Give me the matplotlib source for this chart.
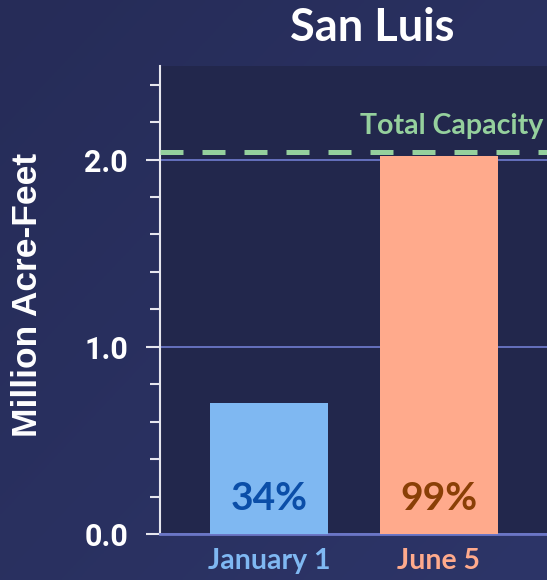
import numpy as np
import matplotlib
matplotlib.use('Agg')
import matplotlib.pyplot as plt

# data
dates = ['January 1', 'June 5']
storage = [0.70, 2.02]          # million acre-feet
pct_labels = ['34%', '99%']
capacity = 2.041
bar_colors = ['#7fb8f2', '#ffaa8c']
pct_colors = ['#0b4ea8', '#8a3f06']

fig = plt.figure(figsize=(5.47, 5.8), dpi=100)

# background gradient
bg = fig.add_axes([0, 0, 1, 1], zorder=-10)
gy, gx = np.mgrid[0:1:200j, 0:1:200j]
g = (gx + (1 - gy)) / 2
c0 = np.array([38, 44, 88]) / 255
c1 = np.array([45, 53, 104]) / 255
img = c0 + (c1 - c0) * g[..., None]
bg.imshow(img, aspect='auto', extent=[0, 1, 0, 1], origin='lower')
bg.axis('off')

ax = fig.add_axes([160 / 547, 1 - 534 / 580, 387 / 547, 468 / 580])
ax.set_facecolor('#22274c')

x = np.arange(len(dates))
ax.bar(x, storage, width=0.694, color=bar_colors, zorder=3)
for i, (lbl, c) in enumerate(zip(pct_labels, pct_colors)):
    ax.text(x[i], 0.19, lbl, color=c, ha='center', va='center',
            fontsize=28, fontweight='bold', family='Lato', zorder=4)

ax.axhline(capacity, color='#95d09d', lw=3.6, dashes=(4.6, 3.8), zorder=5)
ax.text(1.615, capacity + 0.07, 'Total Capacity', color='#95d09d',
        ha='right', va='bottom', fontsize=20.5, fontweight='bold', family='Lato')

ax.set_xlim(-0.64, 1.635)
ax.set_ylim(0, 2.5)
ax.set_yticks([0, 1, 2])
ax.set_yticklabels(['0.0', '1.0', '2.0'])
ax.set_yticks(np.arange(0, 2.5, 0.2), minor=True)
ax.grid(axis='y', which='major', color='#6b76c6', lw=1.3, zorder=1)

ax.set_xticks(x)
ax.set_xticklabels(dates, fontsize=20.5, fontweight='bold', family='Lato')
for t, c in zip(ax.get_xticklabels(), bar_colors):
    t.set_color(c)
ax.tick_params(axis='x', length=0, pad=10)
ax.tick_params(axis='y', which='major', length=10, width=1.5, color='#e6e6ee',
               labelcolor='white', labelsize=22, pad=13)
ax.tick_params(axis='y', which='minor', length=7, width=1.5, color='#e6e6ee')
for t in ax.get_yticklabels():
    t.set_fontfamily('Roboto')
    t.set_fontweight('bold')

for s in ['top', 'right']:
    ax.spines[s].set_visible(False)
ax.spines['left'].set_color('#e6e6ee')
ax.spines['left'].set_linewidth(1.5)
ax.spines['bottom'].set_color('#6b76c6')
ax.spines['bottom'].set_linewidth(2)

ax.set_ylabel('Million Acre-Feet', color='white', fontsize=25.5,
              fontweight='bold', family='Liberation Sans')
ax.yaxis.set_label_coords(-0.30, 0.51)

fig.text(372 / 547, 1 - 28 / 580, 'San Luis', color='white', ha='center',
         va='center', fontsize=32.5, fontweight='bold', family='Lato')

fig.savefig('out.png', dpi=100)
